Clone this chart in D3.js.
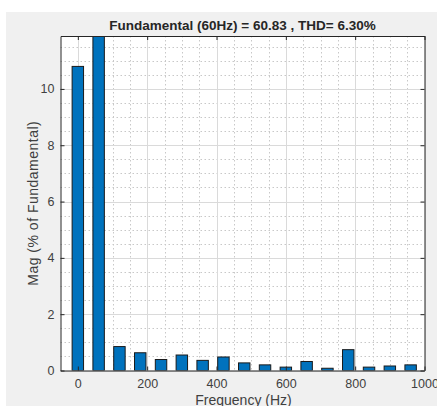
<!DOCTYPE html>
<html>
<head>
<meta charset="utf-8">
<script src="https://cdn.jsdelivr.net/npm/d3@7"></script>
<style>
  body { margin: 0; background: #fff; }
  svg { display: block; font-family: "Liberation Sans", Arial, sans-serif; }
</style>
</head>
<body>
<svg id="chart" width="437" height="406"></svg>
<script>
// harmonic spectrum, % of fundamental
const freqs = [0, 60, 120, 180, 240, 300, 360, 420, 480, 540, 600, 660, 720, 780, 840, 900, 960];
const mags = [10.8, 100, 0.85, 0.63, 0.39, 0.55, 0.36, 0.48, 0.27, 0.20, 0.12, 0.32, 0.08, 0.74, 0.12, 0.16, 0.20];
const xTicks = [0, 200, 400, 600, 800, 1000];
const yTicks = [0, 2, 4, 6, 8, 10];
const titleText = "Fundamental (60Hz) = 60.83 , THD= 6.30%";

const svg = d3.select('#chart');
const W = 437, H = 406;
const plot = { left: 60.5, right: 424.5, top: 36, bottom: 370.5 };

// figure background
svg.append('rect').attr('x', 6).attr('y', 12).attr('width', W - 6).attr('height', H - 12).attr('fill', '#f0f0f0');

const x = d3.scaleLinear().domain([-50, 1000]).range([plot.left, plot.right]);
const y = d3.scaleLinear().domain([0, 11.88]).range([plot.bottom, plot.top]);

// axes background
svg.append('rect')
    .attr('x', plot.left).attr('y', plot.top)
    .attr('width', plot.right - plot.left).attr('height', plot.bottom - plot.top)
    .attr('fill', '#fff');

const grid = svg.append('g');
// minor grid (dotted)
d3.range(0, 1001, 50).filter(v => v % 200 !== 0).forEach(v => {
    grid.append('line').attr('x1', Math.round(x(v)) + 0.5).attr('x2', Math.round(x(v)) + 0.5)
        .attr('y1', plot.top).attr('y2', plot.bottom)
        .attr('stroke', '#c8c8c8').attr('stroke-dasharray', '1.5,2.5');
});
d3.range(0.5, 11.9, 0.5).filter(v => v % 2 !== 0).forEach(v => {
    grid.append('line').attr('y1', Math.round(y(v)) + 0.5).attr('y2', Math.round(y(v)) + 0.5)
        .attr('x1', plot.left).attr('x2', plot.right)
        .attr('stroke', '#c8c8c8').attr('stroke-dasharray', '1.5,2.5');
});
// major grid
xTicks.forEach(v => {
    grid.append('line').attr('x1', Math.round(x(v)) + 0.5).attr('x2', Math.round(x(v)) + 0.5)
        .attr('y1', plot.top).attr('y2', plot.bottom).attr('stroke', '#dadada');
});
yTicks.forEach(v => {
    grid.append('line').attr('y1', Math.round(y(v)) + 0.5).attr('y2', Math.round(y(v)) + 0.5)
        .attr('x1', plot.left).attr('x2', plot.right).attr('stroke', '#dadada');
});

// bars, clipped to the axes
svg.append('clipPath').attr('id', 'clip').append('rect')
    .attr('x', plot.left).attr('y', plot.top)
    .attr('width', plot.right - plot.left).attr('height', plot.bottom - plot.top);

const barW = 33;
svg.append('g').attr('clip-path', 'url(#clip)')
    .selectAll('rect')
    .data(freqs)
    .enter()
    .append('rect')
    .attr('x', (d) => x(d - barW / 2))
    .attr('width', x(barW) - x(0))
    .attr('y', (d, i) => y(mags[i]))
    .attr('height', (d, i) => y(0) - y(mags[i]))
    .attr('fill', '#0072bd')
    .attr('stroke', '#1a1a1a')
    .attr('stroke-width', 1);

// axes: bottom/left with labels, top/right ticks only
const axisColor = '#262626';
const xAxis = svg.append('g').attr('transform', `translate(0,${plot.bottom})`)
    .call(d3.axisBottom(x).tickValues(xTicks).tickFormat(d3.format('d'))
        .tickSizeInner(-4).tickSizeOuter(0).tickPadding(9));
const yAxis = svg.append('g').attr('transform', `translate(${plot.left},0)`)
    .call(d3.axisLeft(y).tickValues(yTicks).tickSizeInner(-4).tickSizeOuter(0).tickPadding(6));
const xTop = svg.append('g').attr('transform', `translate(0,${plot.top})`)
    .call(d3.axisTop(x).tickValues(xTicks).tickSizeInner(-4).tickSizeOuter(0).tickFormat(''));
const yRight = svg.append('g').attr('transform', `translate(${plot.right},0)`)
    .call(d3.axisRight(y).tickValues(yTicks).tickSizeInner(-4).tickSizeOuter(0).tickFormat(''));

[xAxis, yAxis, xTop, yRight].forEach(g => {
    g.selectAll('path').attr('stroke', axisColor);
    g.selectAll('line').attr('stroke', axisColor);
    g.selectAll('text').attr('fill', '#404040').style('font-size', '12.5px')
        .style('font-family', '"Liberation Sans", Arial, sans-serif');
});

// labels
svg.append('text')
    .attr('x', (plot.left + plot.right) / 2).attr('y', 30)
    .attr('text-anchor', 'middle')
    .attr('fill', '#262626')
    .style('font-size', '13.5px').style('font-weight', 'bold')
    .text(titleText);

svg.append('text')
    .attr('x', (plot.left + plot.right) / 2 + 1).attr('y', 405)
    .attr('text-anchor', 'middle')
    .attr('fill', '#404040')
    .style('font-size', '14px')
    .text('Frequency (Hz)');

svg.append('text')
    .attr('transform', `translate(37.5,${(plot.top + plot.bottom) / 2}) rotate(-90)`)
    .attr('text-anchor', 'middle')
    .attr('fill', '#404040')
    .style('font-size', '14px')
    .style('letter-spacing', '0.5px')
    .text('Mag (% of Fundamental)');
</script>
</body>
</html>
